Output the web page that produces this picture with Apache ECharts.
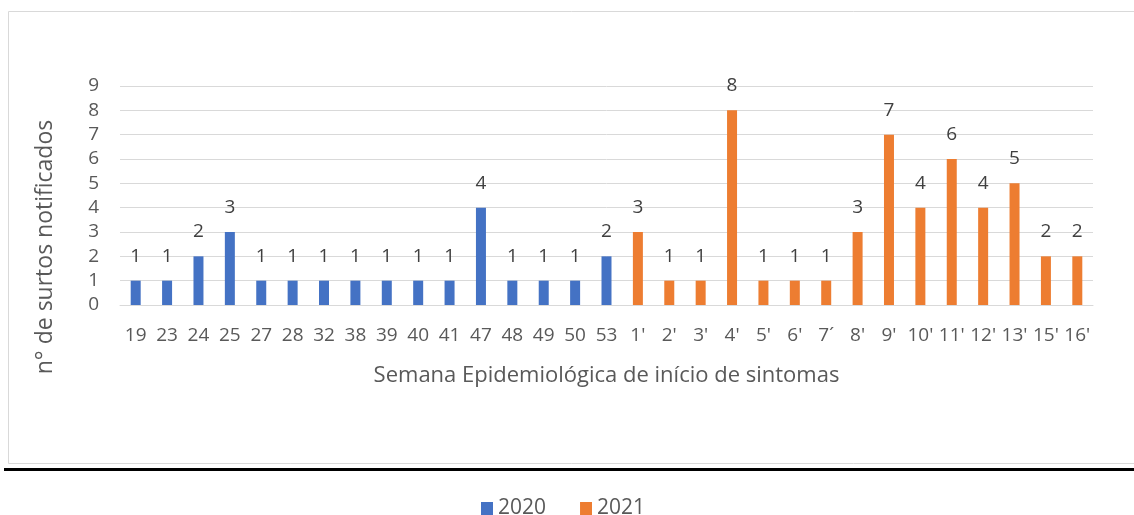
<!DOCTYPE html>
<html>
<head>
<meta charset="utf-8">
<script src="https://cdn.jsdelivr.net/npm/echarts@6/dist/echarts.min.js"></script>
<style>
  html, body { margin: 0; padding: 0; background: #fff; }
  #main { width: 1134px; height: 515px; }
</style>
</head>
<body>
<div id="main"></div>
<script>
  const weeks2020 = ['19', '23', '24', '25', '27', '28', '32', '38', '39', '40', '41', '47', '48', '49', '50', '53']
  const weeks2021 = ["1'", "2'", "3'", "4'", "5'", "6'", "7´", "8'", "9'", "10'", "11'", "12'", "13'", "15'", "16'"]
  const values2020 = [1, 1, 2, 3, 1, 1, 1, 1, 1, 1, 1, 4, 1, 1, 1, 2]
  const values2021 = [3, 1, 1, 8, 1, 1, 1, 3, 7, 4, 6, 4, 5, 2, 2]
  const yTicks = [0, 1, 2, 3, 4, 5, 6, 7, 8, 9]

  const categories = weeks2020.concat(weeks2021)
  // cada série ocupa só a sua parte do eixo
  const serie2020 = values2020.concat(weeks2021.map(() => null))
  const serie2021 = weeks2020.map(() => null).concat(values2021)

  const font = '"Open Sans", sans-serif'
  const myechart = echarts.init(document.getElementById('main'))
  const labelStyle = {
    show: true,
    position: 'top',
    distance: 15,
    color: '#404040',
    fontSize: 19,
    fontFamily: font
  }

  const option = {
    animation: false,
    grid: { left: 120, right: 41, top: 86, bottom: 210 },
    legend: {
      bottom: -9,
      left: 476,
      icon: 'rect',
      itemWidth: 12,
      itemHeight: 13,
      itemGap: 34,
      textStyle: { color: '#595959', fontSize: 21, fontFamily: '"Liberation Sans Narrow", "Open Sans", sans-serif' }
    },
    graphic: [
      {
        type: 'rect',
        shape: { x: 8.5, y: 11.5, width: 1140, height: 452 },
        style: { fill: 'none', stroke: '#d9d9d9', lineWidth: 1 },
        silent: true
      },
      {
        type: 'line',
        shape: { x1: 4, y1: 469.5, x2: 1134, y2: 469.5 },
        style: { stroke: '#000', lineWidth: 3 },
        silent: true
      },
      {
        type: 'text',
        x: 45,
        y: 247,
        rotation: Math.PI / 2,
        style: {
          text: 'n° de surtos notificados',
          fill: '#595959',
          fontSize: 23,
          fontFamily: font,
          align: 'center',
          verticalAlign: 'middle'
        }
      }
    ],
    xAxis: {
      type: 'category',
      data: categories,
      name: 'Semana Epidemiológica de início de sintomas',
      nameLocation: 'middle',
      nameGap: 60,
      nameTextStyle: { color: '#595959', fontSize: 22, fontFamily: font },
      axisLine: { lineStyle: { color: '#d9d9d9', width: 1 } },
      axisTick: { show: false },
      axisLabel: { interval: 0, color: '#595959', fontSize: 19, fontFamily: font, margin: 21 }
    },
    yAxis: {
      type: 'value',
      min: yTicks[0],
      max: yTicks[yTicks.length - 1],
      interval: 1,
      axisLine: { show: false },
      axisTick: { show: false },
      splitLine: { lineStyle: { color: '#d9d9d9', width: 1 } },
      axisLabel: { color: '#595959', fontSize: 19, fontFamily: font, margin: 21 }
    },
    series: [
      {
        name: '2020', type: 'bar', stack: 'a', data: serie2020,
        barWidth: 10, itemStyle: { color: '#4472C4' }, label: labelStyle
      },
      {
        name: '2021', type: 'bar', stack: 'a', data: serie2021,
        barWidth: 10, itemStyle: { color: '#ED7D31' }, label: labelStyle
      }
    ]
  }
  myechart.setOption(option)
</script>
</body>
</html>
